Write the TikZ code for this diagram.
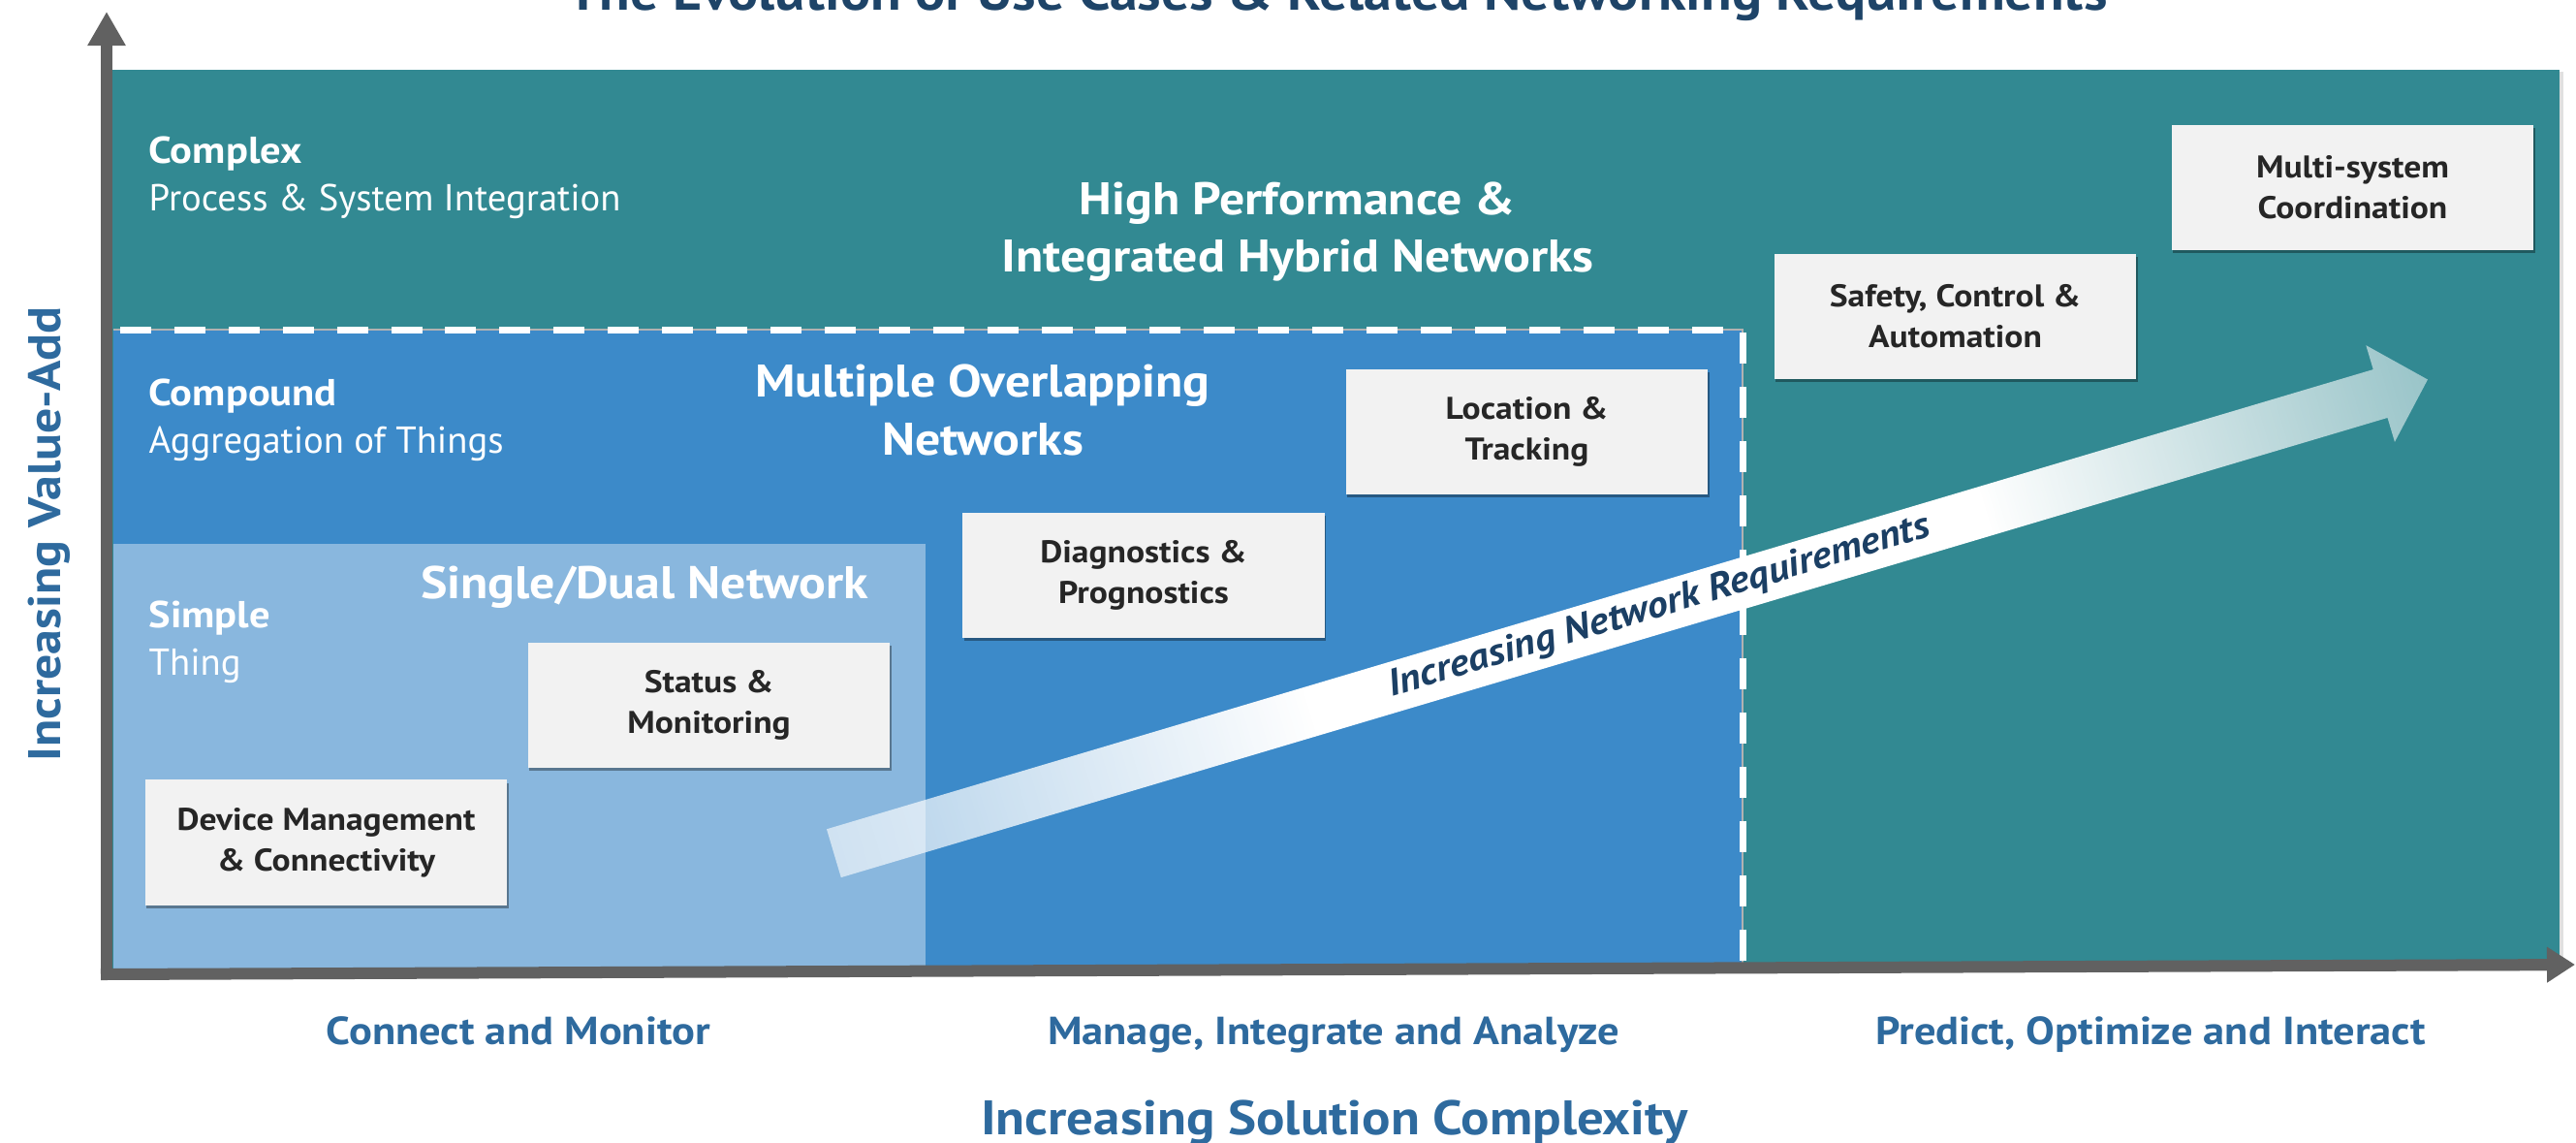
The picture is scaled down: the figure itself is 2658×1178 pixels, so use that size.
\documentclass[tikz,border=0pt]{standalone}
\usepackage{fontspec}
\setmainfont{PT Sans}[BoldFeatures={FakeStretch=1.1}, BoldItalicFeatures={FakeStretch=1.1}]
\usetikzlibrary{arrows.meta,shadows,fadings}
\definecolor{tealbg}{RGB}{50,137,146}
\definecolor{midblue}{RGB}{60,138,201}
\definecolor{lightblue}{RGB}{137,183,222}
\definecolor{boxfill}{RGB}{242,242,242}
\definecolor{boxtext}{RGB}{38,38,38}
\definecolor{axisgray}{RGB}{97,97,97}
\definecolor{labelblue}{RGB}{46,106,158}
\definecolor{titlenavy}{RGB}{30,68,104}
\definecolor{arrowtext}{RGB}{27,63,100}
\pgfdeclarehorizontalshading{arrfadeshade}{100bp}{color(0bp)=(transparent!40); color(25bp)=(transparent!40); color(40bp)=(transparent!0); color(61bp)=(transparent!0); color(75bp)=(transparent!50); color(100bp)=(transparent!50)}
\pgfdeclarefading{arrfade}{\pgfuseshading{arrfadeshade}}
\begin{document}
\begin{tikzpicture}[x=0.01cm, y=-0.01cm,
  usecase/.style={fill=boxfill, text=boxtext, align=center, inner sep=0pt,
    minimum width=3.73cm, minimum height=1.29cm,
    font=\bfseries\fontsize{9.2}{11.95}\selectfont,
    drop shadow={shadow xshift=0.4pt, shadow yshift=-0.9pt, opacity=0.35, fill=black}},
  lvl/.style={text=white, anchor=base west, inner sep=0pt, font=\bfseries\fontsize{11}{13}\selectfont},
  lvlsub/.style={text=white, anchor=base west, inner sep=0pt, font=\fontsize{11}{13}\selectfont},
  nettitle/.style={text=white, align=center, inner sep=0pt, font=\bfseries\fontsize{13.4}{16.8}\selectfont},
  phase/.style={text=labelblue, anchor=base, inner sep=0pt, font=\bfseries\fontsize{11.5}{13}\selectfont},
  axislabel/.style={text=labelblue, anchor=base, inner sep=0pt, font=\bfseries\fontsize{14.2}{17}\selectfont},
  axisline/.style={draw=axisgray, line width=0.12cm},
  arrtext/.style={text=arrowtext, inner sep=0pt, font=\bfseries\itshape\fontsize{11}{13}\selectfont}
]
\useasboundingbox (0,0) rectangle (2658,1178);

% regions
\fill[tealbg, drop shadow={shadow xshift=1pt, shadow yshift=-0.5pt, opacity=0.12, fill=black}] (116,72) rectangle (2641,1000);
\fill[midblue] (117,340) rectangle (1798,1000);
\fill[lightblue] (117,561) rectangle (955,1000);
\draw[gray!60, line width=0.4pt] (117,340) -- (1798,340) -- (1798,1000);
\draw[white, line width=0.07cm, dash pattern=on 9.1pt off 6.8pt] (124,340) -- (1798,340) -- (1798,1000);

% title
\node[anchor=base, inner sep=0pt, text=titlenavy, font=\bfseries\fontsize{15}{18}\selectfont] (title) at (1380,10) {The Evolution of Use Cases \& Related Networking Requirements};

% level labels
\node[lvl] (complex) at (153,168) {Complex};
\node[lvlsub] (complexsub) at (153,217) {Process \& System Integration};
\node[lvl] (compound) at (153,418) {Compound};
\node[lvlsub] (compoundsub) at (153,467) {Aggregation of Things};
\node[lvl] (simple) at (153,647) {Simple};
\node[lvlsub] (simplesub) at (153,696) {Thing};

% network titles
\node[nettitle] (hpnet) at (1339,239) {High Performance \&\\Integrated Hybrid Networks};
\node[nettitle] (multinet) at (1014,423) {Multiple Overlapping\\Networks};
\node[nettitle, anchor=base] (singlenet) at (665,617) {Single/Dual Network};

% big arrow
\coordinate (arrtail) at (861,880);
\begin{scope}[transform canvas={shift={(arrtail)}, rotate=16.55}]
  \fill[white, path fading=arrfade] (0,-26) -- (1666,-26) -- (1666,-52) -- (1717,0) -- (1666,52) -- (1666,26) -- (0,26) -- cycle;
  \node[arrtext, anchor=base] (arrlabel) at (888,9) {Increasing Network Requirements};
\end{scope}

% use case boxes
\node[usecase] (device) at (336.5,869) {Device Management\\\& Connectivity};
\node[usecase] (status) at (731.5,727.5) {Status \&\\Monitoring};
\node[usecase] (diag) at (1180,593.5) {Diagnostics \&\\Prognostics};
\node[usecase] (loc) at (1575.5,445.5) {Location \&\\Tracking};
\node[usecase] (safety) at (2017.5,326.5) {Safety, Control \&\\Automation};
\node[usecase] (multi) at (2427.5,193.5) {Multi-system\\Coordination};

% axes
\coordinate (yorig) at (110,1011);
\coordinate (ytip) at (110,12);
\coordinate (xorig) at (104,1005);
\coordinate (xtip) at (2657,995);
\draw[axisline, -{Triangle[length=0.35cm, width=0.37cm]}] (yorig) -- (ytip);
\draw[axisline, -{Triangle[length=0.29cm, width=0.35cm]}] (xorig) -- (xtip);

% axis labels
\node[phase] (ph1) at (535,1077) {Connect and Monitor};
\node[phase] (ph2) at (1376,1077) {Manage, Integrate and Analyze};
\node[phase] (ph3) at (2219,1077) {Predict, Optimize and Interact};
\node[axislabel] (xlabel) at (1377,1170) {Increasing Solution Complexity};
\node[axislabel, rotate=90, font=\bfseries\fontsize{13.4}{16}\selectfont] (ylabel) at (62,551) {Increasing Value-Add};
\end{tikzpicture}
\end{document}
